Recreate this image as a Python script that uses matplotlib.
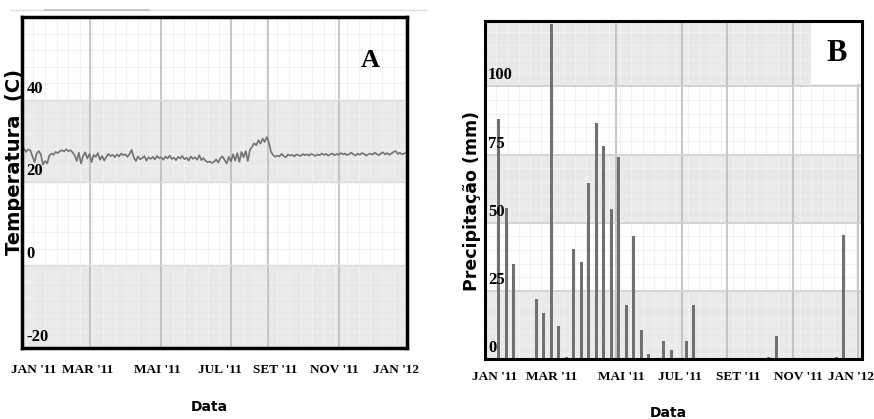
import numpy as np
import pandas as pd
import matplotlib
matplotlib.use("Agg")
import matplotlib.pyplot as plt
from matplotlib.lines import Line2D
from matplotlib.patches import Rectangle
import matplotlib.transforms as mtransforms

# ---- data ----
# panel A: air temperature, one reading every 2 days through 2011
temp = [27.6, 28.2, 27.4, 28.0, 27.8, 26.4, 24.9, 27.0, 27.6, 26.8, 24.3, 25.2, 24.6, 26.5, 27.0, 26.7,
        27.4, 27.1, 27.6, 27.8, 27.5, 28.0, 27.6, 27.8, 27.3, 26.6, 25.2, 27.2, 24.6, 26.4, 27.3,
        25.8, 26.9, 24.9, 26.7, 26.2, 27.1, 25.5, 26.4, 25.3, 26.2, 26.9, 26.4, 26.7, 26.1, 26.8,
        26.3, 27.0, 26.6, 26.8, 26.2, 26.9, 27.9, 26.0, 25.2, 26.3, 25.6, 25.9, 26.4, 25.3, 26.1,
        25.7, 26.2, 25.6, 26.4, 25.9, 26.1, 25.5, 26.3, 25.8, 26.5, 25.7, 26.0, 25.4, 26.2, 25.8,
        26.4, 25.6, 26.0, 25.3, 26.3, 25.7, 26.1, 25.5, 26.6, 25.4, 25.9, 25.2, 24.9, 25.1, 24.7,
        25.0, 25.6, 24.8, 25.9, 26.3, 25.4, 24.6, 26.2, 25.1, 26.8, 25.3, 27.1, 25.0, 27.4, 26.1,
        27.6, 25.2, 27.9, 28.6, 29.5, 29.0, 30.2, 29.4, 30.6, 29.8, 31.0, 29.6, 27.4, 26.6, 26.2,
        26.5, 26.3, 26.9, 26.4, 26.1, 26.8, 26.5, 26.7, 26.3, 26.8, 26.6, 26.4, 26.9, 26.6, 26.8,
        26.5, 26.9, 26.7, 26.4, 26.8, 26.6, 27.0, 26.7, 26.9, 26.5, 26.8, 27.0, 26.6, 26.9, 26.7,
        27.1, 26.8, 27.0, 26.6, 26.9, 27.2, 26.8, 26.5, 27.0, 26.7, 27.1, 26.9, 26.5, 26.8, 27.0,
        26.7, 27.2, 26.9, 26.6, 27.0, 27.3, 26.8, 27.1, 26.7, 27.0, 27.4, 27.6, 26.9, 27.2, 26.8, 27.0, 27.2]
temp_dates = pd.date_range("2011-01-01", periods=len(temp), freq="2D")
temp_day = (temp_dates - pd.Timestamp("2011-01-01")).days

# panel B: weekly rainfall (week number from the first bar)
rain_week = [0, 1, 2, 5, 6, 7, 8, 9, 10, 11, 12, 13, 14, 15, 16, 17, 18, 19, 20,
             22, 23, 25, 26, 36, 37, 45, 46]
rain_mm = [88, 55.5, 35, 22, 17, 123, 12, 0.7, 40.5, 35.5, 64.5, 86.5, 78, 55,
           74, 20, 45, 10.5, 2, 6.5, 3.3, 6.5, 20, 0.7, 8.3, 0.7, 45.5]

month_labels = ["JAN '11", "MAR '11", "MAI '11", "JUL '11", "SET '11", "NOV '11", "JAN '12"]
temp_ticks = [-20, 0, 20, 40]
rain_ticks = [0, 25, 50, 75, 100]

# ---- style ----
band = "#e9e9e9"
major = "#bdbdbd"
minor = "#f1f1f1"
bar_c = "#707070"
serif = ["Liberation Serif", "DejaVu Serif"]

fig = plt.figure(figsize=(8.74, 4.19), dpi=100)
axA = fig.add_axes([0.025, 0.170, 0.441, 0.789])
axB = fig.add_axes([0.555, 0.143, 0.431, 0.807])


def frame(ax, lw):
    ax.set_facecolor("white")
    for s in ax.spines.values():
        s.set_color("black")
        s.set_linewidth(lw)
        s.set_zorder(5)
    ax.tick_params(length=0, labelleft=False, labelbottom=False)


def month_text(ax, positions, y, size):
    tr = mtransforms.blended_transform_factory(ax.transData, fig.transFigure)
    for x, lab in zip(positions, month_labels):
        ax.text(x, y, lab, transform=tr, ha="center", va="center",
                family=serif, weight="bold", fontsize=size)


def value_text(ax, ticks, dx, dy):
    tr = mtransforms.blended_transform_factory(ax.transAxes, ax.transData)
    off = mtransforms.offset_copy(tr, fig=fig, x=0, y=dy, units="dots")
    for v in ticks:
        ax.text(dx, v, str(v), transform=off, ha="left", va="bottom",
                family=serif, weight="bold", fontsize=12, zorder=4)


# ---- panel A ----
frame(axA, 2.5)
axA.set_xlim(0, 365)
axA.set_ylim(-20, 60)
for lo in (-20, 20):
    axA.axhspan(lo, lo + 20, color=band, zorder=0, lw=0)
for x in np.arange(0, 365, 11):
    axA.axvline(x, color=minor, lw=0.8, zorder=0.5)
for y in np.arange(-20, 60, 4):
    axA.axhline(y, color=minor, lw=0.8, zorder=0.5)
for x in [65, 132, 198, 233, 300]:
    axA.axvline(x, color=major, lw=1.2, zorder=1)
for y in [0, 20, 40]:
    axA.axhline(y, color="#dcdcdc", lw=1, zorder=1)
axA.plot(temp_day, temp, color="#727272", lw=1.2, zorder=3)
value_text(axA, temp_ticks, 0.012, 3)
month_text(axA, [11, 62, 128, 188, 240, 296, 354], 1 - 370 / 419, 9.5)
axA.text(0.905, 0.87, "A", transform=axA.transAxes, ha="center", va="center",
         family=serif, weight="bold", fontsize=19)
fig.text(0.017, 0.613, "Temperatura  (C)", rotation=90, ha="center", va="center",
         weight="bold", fontsize=14)
fig.text(0.240, 1 - 407 / 419, "Data", ha="center", va="center",
         weight="bold", fontsize=10)
fig.add_artist(Line2D([0.012, 0.487], [1 - 10 / 419] * 2, color="#dddddd", lw=1))
fig.add_artist(Line2D([0.052, 0.170], [1 - 10 / 419] * 2, color="#bfbfbf", lw=1.2))

# ---- panel B ----
frame(axB, 2.2)
axB.set_xlim(-1.82, 48.4)
axB.set_ylim(0, 124)
for lo in (0, 50, 100):
    axB.axhspan(lo, lo + 25, color=band, zorder=0, lw=0)
for x in np.arange(-1.82, 48.4, 1.5):
    axB.axvline(x, color=minor, lw=0.8, zorder=0.5)
for y in np.arange(0, 124, 5):
    axB.axhline(y, color=minor, lw=0.8, zorder=0.5)
for x in [15.7, 24.5, 30.5, 39.2, 47.9]:
    axB.axvline(x, color=major, lw=1.2, zorder=1)
for y in [25, 50, 75, 100]:
    axB.axhline(y, color="#cfcfcf", lw=1.2, zorder=1)
axB.bar(rain_week, rain_mm, width=0.42, color=bar_c, zorder=3)
value_text(axB, rain_ticks, 0.008, 3)
month_text(axB, [-0.6, 7.1, 16.4, 24.1, 31.9, 39.9, 47.0], 1 - 377 / 419, 9.5)
axB.add_patch(Rectangle((0.866, 0.815), 0.134, 0.185, transform=axB.transAxes,
                        facecolor="white", edgecolor="none", zorder=4))
axB.text(0.933, 0.905, "B", transform=axB.transAxes, ha="center", va="center",
         family=serif, weight="bold", fontsize=22, zorder=5)
fig.text(0.540, 0.52, "Precipitação (mm)", rotation=90, ha="center", va="center",
         weight="bold", fontsize=12.5)
fig.text(0.765, 1 - 413 / 419, "Data", ha="center", va="center",
         weight="bold", fontsize=10)

fig.savefig("out.png", dpi=100)
